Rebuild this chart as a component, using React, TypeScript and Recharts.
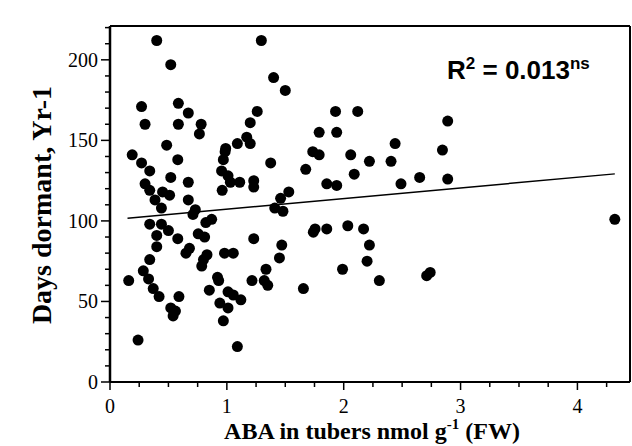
import { ReferenceLine, Scatter, ScatterChart, XAxis, YAxis } from 'recharts';

// ABA (nmol/g FW) and days dormant
const abaX = [
  0.40, 0.52, 0.27, 0.585, 0.67, 0.30, 0.585, 0.78, 0.765, 0.485, 0.19, 0.27, 0.58, 0.34, 0.52, 0.30,
  0.34, 0.45, 0.51, 0.385, 0.44, 0.67, 0.67, 0.73, 1.295, 1.40, 1.50, 1.26, 1.20, 1.17, 1.09, 1.20,
  0.99, 0.985, 0.97, 1.375, 0.955, 1.01, 1.03, 1.11, 1.23, 1.23, 0.96, 1.53, 1.46, 1.41, 1.48, 1.93,
  2.12, 1.79, 1.94, 1.735, 1.79, 2.06, 2.22, 1.675, 2.09, 1.855, 1.94, 2.89, 2.44, 2.845, 2.405, 2.65,
  2.49, 2.89, 0.71, 0.34, 0.44, 0.50, 0.40, 0.58, 0.40, 0.34, 0.285, 0.33, 0.16, 0.37, 0.42, 0.59,
  0.52, 0.56, 0.54, 0.24, 0.755, 0.81, 0.82, 0.87, 0.65, 0.68, 0.83, 0.80, 0.785, 0.85, 0.92, 0.93,
  0.94, 1.01, 0.97, 0.98, 1.055, 1.01, 1.055, 1.12, 1.09, 1.23, 1.215, 1.32, 1.35, 1.335, 1.47, 1.45,
  1.655, 1.74, 1.755, 1.855, 2.035, 2.17, 1.99, 2.22, 2.20, 2.305, 2.71, 2.74, 4.32,
];
const daysY = [
  212, 197, 171, 173, 167, 160, 160, 160, 154, 147, 141, 136, 138, 131, 127, 123,
  119, 118, 116, 113, 108, 124, 113, 107, 212, 189, 181, 168, 161, 152, 148, 148,
  145, 143, 138, 136, 131, 128, 124, 124, 125, 121, 119, 118, 114, 108, 106, 168,
  168, 155, 155, 143, 141, 141, 137, 132, 129, 123, 122, 162, 148, 144, 137, 127,
  123, 126, 104, 98, 98, 94, 91, 89, 84, 76, 69, 64, 63, 58, 53, 53,
  46, 44, 41, 26, 92, 90, 99, 101, 80, 83, 79, 76, 72, 57, 65, 63,
  49, 46, 38, 80, 80, 56, 54, 51, 22, 89, 63, 63, 60, 70, 85, 77,
  58, 93, 95, 95, 97, 95, 70, 85, 75, 63, 66, 68, 101,
];
const points = abaX.map((x, i) => ({ x, y: daysY[i] }));

// regression line end points
const fitX = [0.15, 4.32];
const fitY = [101.7, 129.2];

const xTicks = [0, 0.25, 0.5, 0.75, 1, 1.25, 1.5, 1.75, 2, 2.25, 2.5, 2.75, 3, 3.25, 3.5, 3.75, 4, 4.25];
const yTicks = [0, 10, 20, 30, 40, 50, 60, 70, 80, 90, 100, 110, 120, 130, 140, 150, 160, 170, 180, 190, 200, 210, 220];
const yLabels = [0, 50, 100, 150, 200];

const serif = 'Liberation Serif, Times New Roman, serif';
const sans = 'Liberation Sans, Arial, sans-serif';

const XTick = (props: any) => {
  const { x, y, payload } = props;
  const major = Number.isInteger(payload.value);
  return (
    <g>
      <line x1={x} x2={x} y1={y} y2={y + (major ? 8 : 5)} stroke="#000" strokeWidth={1.5} />
      {major && (
        <text x={x} y={y + 31} textAnchor="middle" fontFamily={serif} fontSize={20} fill="#000">
          {payload.value}
        </text>
      )}
    </g>
  );
};

const TopTick = (props: any) => {
  const { x, y, payload } = props;
  const major = Number.isInteger(payload.value * 2);
  return <line x1={x} x2={x} y1={y} y2={y - (major ? 7 : 4)} stroke="#000" strokeWidth={1.5} />;
};

const YTick = (props: any) => {
  const { x, y, payload } = props;
  const major = yLabels.includes(payload.value);
  return (
    <g>
      <line x1={x} x2={x - (major ? 9 : 5)} y1={y} y2={y} stroke="#000" strokeWidth={1.5} />
      {major && (
        <text x={x - 12} y={y + 7} textAnchor="end" fontFamily={serif} fontSize={20} fill="#000">
          {payload.value}
        </text>
      )}
    </g>
  );
};

const Dot = (props: any) => <circle cx={props.cx} cy={props.cy} r={5.5} fill="#000" />;

export default function App() {
  return (
    <div style={{ position: 'absolute', left: 0, top: 0, background: '#fff' }}>
      <ScatterChart width={632} height={446} margin={{ top: 0, right: 0, bottom: 0, left: 0 }}>
        <XAxis
          xAxisId="b"
          type="number"
          dataKey="x"
          domain={[0, 4.45]}
          ticks={xTicks}
          interval={0}
          allowDataOverflow
          height={64}
          tickSize={0}
          tickMargin={0}
          tickLine={false}
          tick={<XTick />}
          axisLine={{ stroke: '#000', strokeWidth: 2 }}
          label={{
            content: () => (
              <text x={372} y={439} textAnchor="middle" fontFamily={serif} fontWeight="bold" fontSize={24} fill="#000">
                ABA in tubers nmol g
                <tspan fontSize={15} dy={-10}>-1</tspan>
                <tspan dy={10}> (FW)</tspan>
              </text>
            ),
          }}
        />
        <XAxis
          xAxisId="t"
          type="number"
          orientation="top"
          domain={[0, 4.45]}
          ticks={xTicks}
          interval={0}
          allowDataOverflow
          height={26}
          tickSize={0}
          tickMargin={0}
          tickLine={false}
          tick={<TopTick />}
          axisLine={{ stroke: '#000', strokeWidth: 2 }}
          label={{
            content: () => (
              <text x={447} y={79} fontFamily={sans} fontWeight="bold" fontSize={26} fill="#000">
                R
                <tspan fontSize={17} dy={-10}>2</tspan>
                <tspan dy={10}> = 0.013</tspan>
                <tspan fontSize={17} dy={-10}>ns</tspan>
              </text>
            ),
          }}
        />
        <YAxis
          yAxisId="l"
          type="number"
          dataKey="y"
          domain={[0, 221]}
          ticks={yTicks}
          interval={0}
          allowDataOverflow
          width={110}
          tickSize={0}
          tickMargin={0}
          tickLine={false}
          tick={<YTick />}
          axisLine={{ stroke: '#000', strokeWidth: 2.5 }}
          label={{
            content: () => (
              <text
                x={41}
                y={205}
                transform="rotate(-90 41 205)"
                textAnchor="middle"
                dominantBaseline="central"
                fontFamily={serif}
                fontWeight="bold"
                fontSize={28}
                fill="#000"
              >
                Days dormant, Yr-1
              </text>
            ),
          }}
        />
        <YAxis
          yAxisId="r"
          type="number"
          orientation="right"
          domain={[0, 221]}
          allowDataOverflow
          width={2}
          tick={false}
          tickLine={false}
          axisLine={{ stroke: '#000', strokeWidth: 2 }}
        />
        <ReferenceLine
          xAxisId="b"
          yAxisId="l"
          segment={[
            { x: fitX[0], y: fitY[0] },
            { x: fitX[1], y: fitY[1] },
          ]}
          stroke="#000"
          strokeWidth={1.5}
          ifOverflow="visible"
        />
        <Scatter xAxisId="b" yAxisId="l" data={points} shape={<Dot />} isAnimationActive={false} />
      </ScatterChart>
    </div>
  );
}
